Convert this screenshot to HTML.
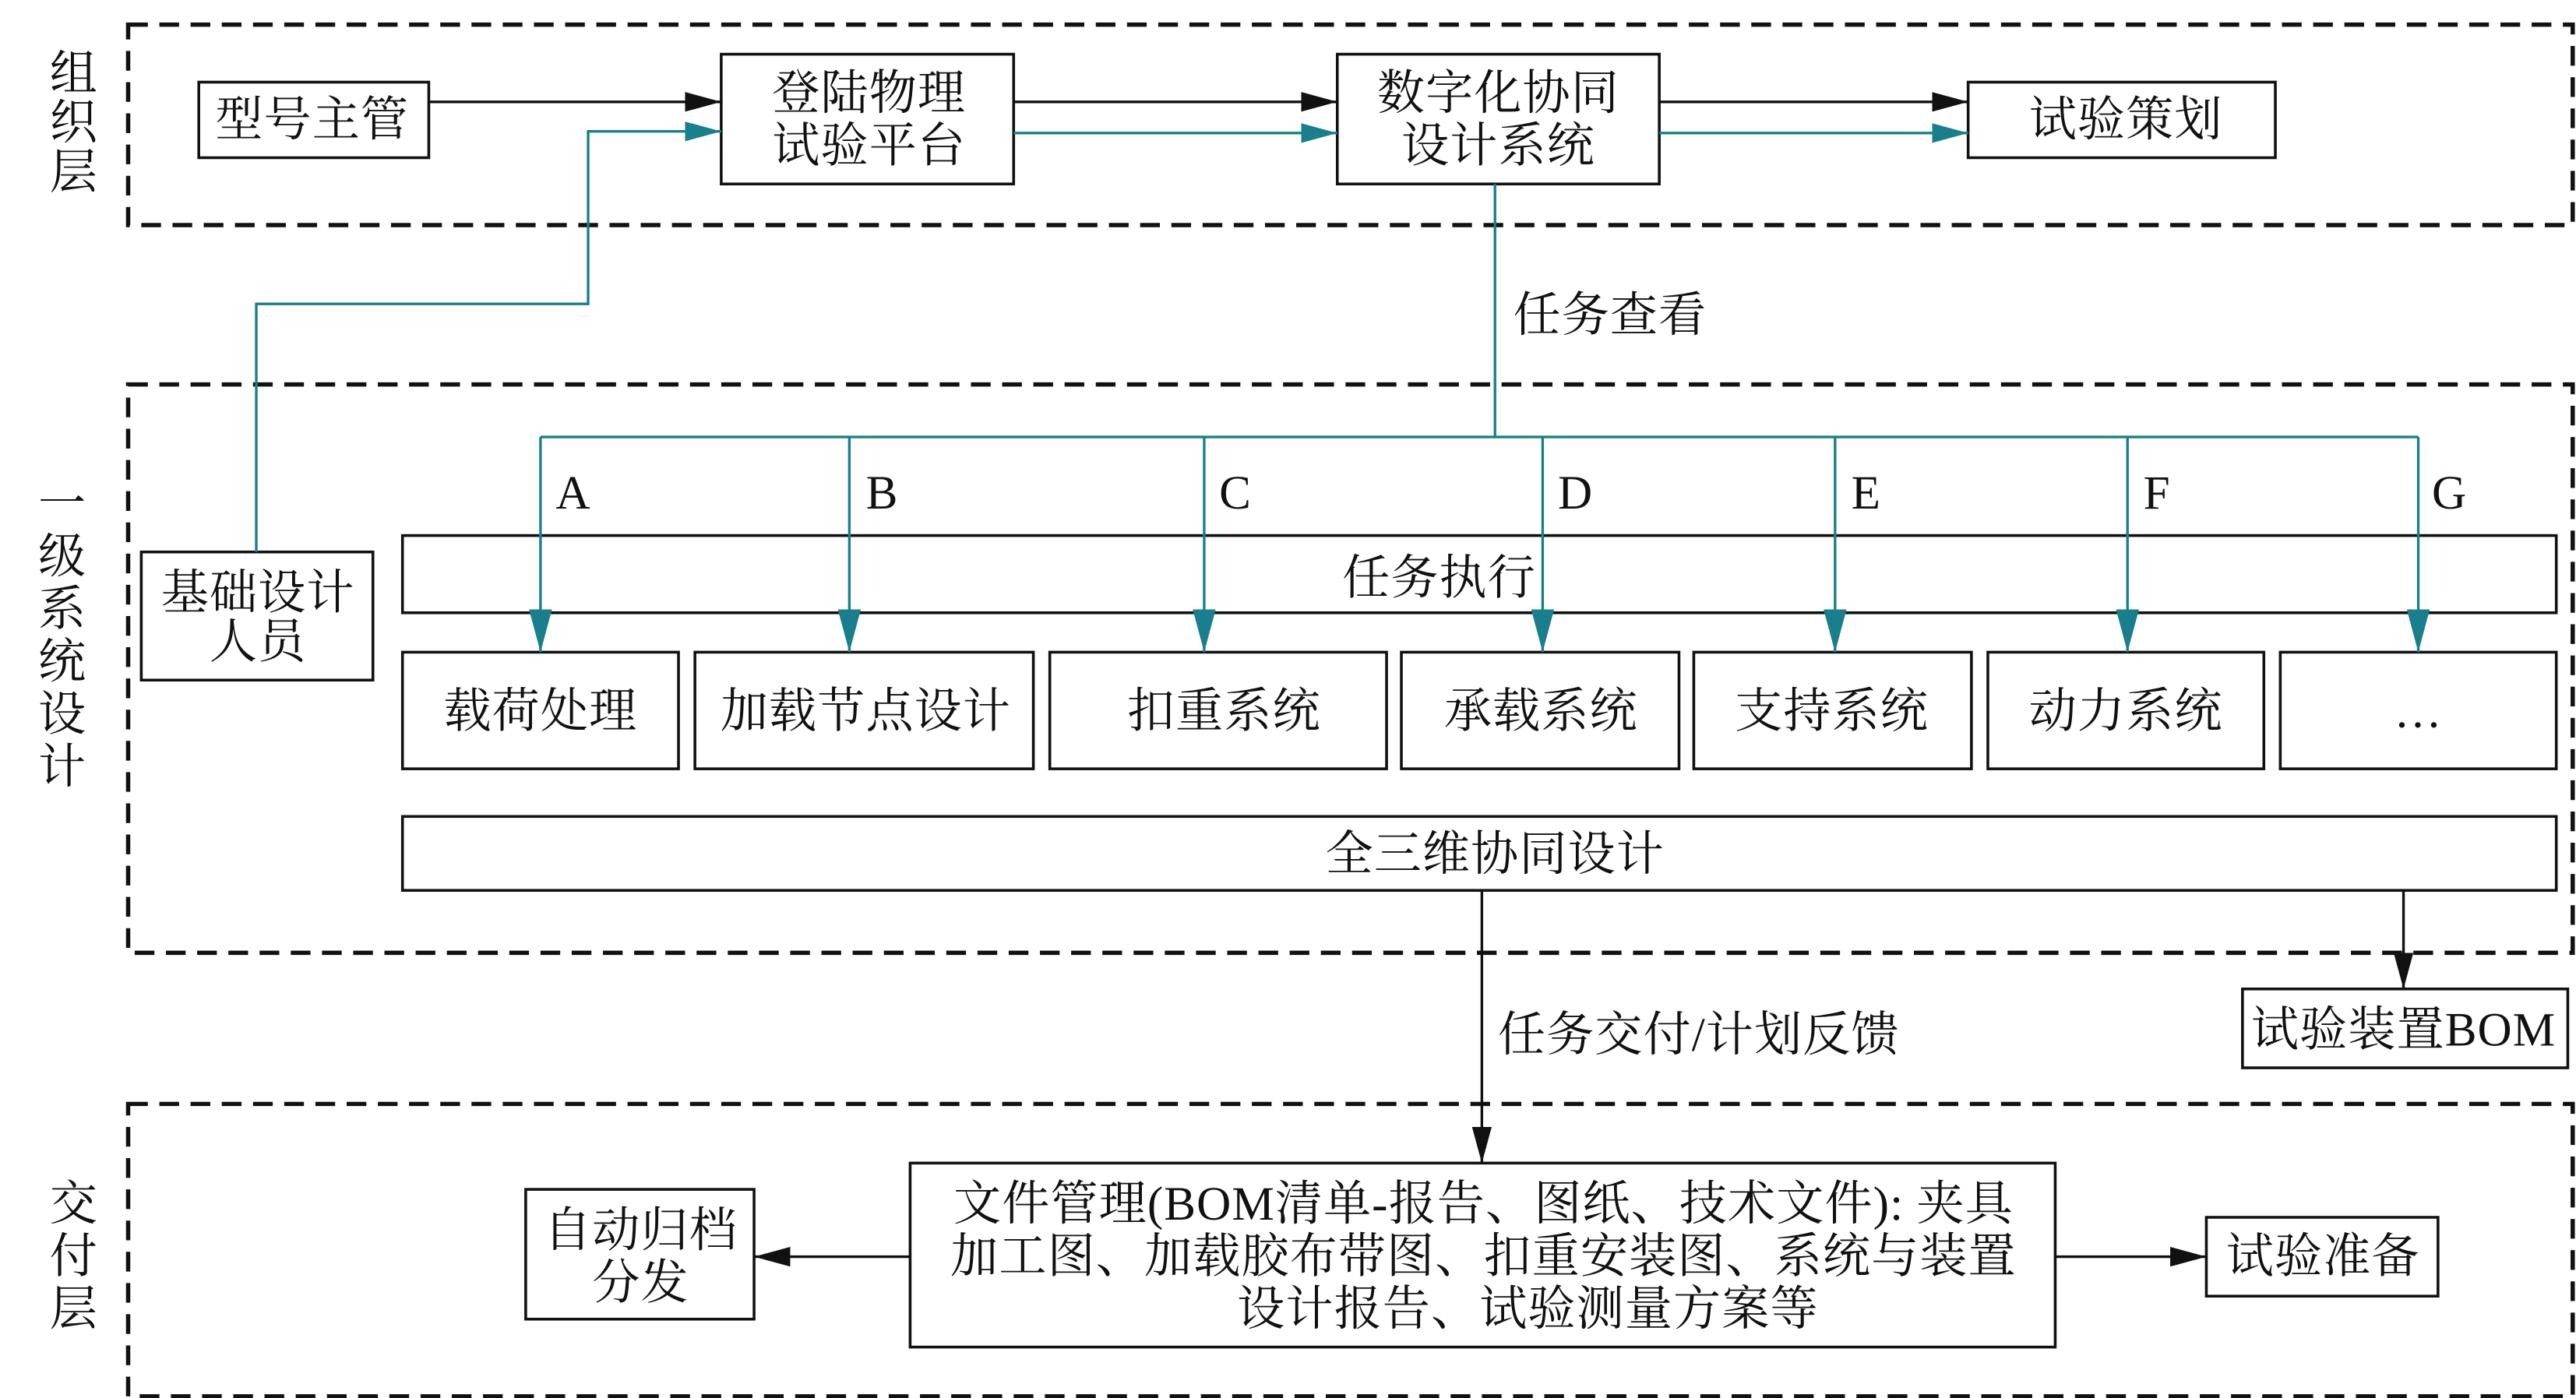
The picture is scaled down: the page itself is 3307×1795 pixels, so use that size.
<!DOCTYPE html>
<html><head><meta charset="utf-8"><style>
html,body{margin:0;padding:0;background:#fff;}
svg{display:block;}
text{font-family:"Liberation Serif","Noto Serif CJK SC",serif;fill:#111;}
</style></head><body>
<svg width="3307" height="1795" viewBox="0 0 1568 851" preserveAspectRatio="none" xmlns="http://www.w3.org/2000/svg">
<defs>
<marker id="abk" viewBox="0 0 22 12" markerWidth="22" markerHeight="12" refX="22" refY="6" orient="auto" markerUnits="userSpaceOnUse"><path d="M0,0 L22,6 L0,12 Z" fill="#111"/></marker>
<marker id="at" viewBox="0 0 22 12" markerWidth="22" markerHeight="12" refX="22" refY="6" orient="auto" markerUnits="userSpaceOnUse"><path d="M0,0 L22,6 L0,12 Z" fill="#1a7f8c"/></marker>
<marker id="atv" viewBox="0 0 26 14" markerWidth="26" markerHeight="14" refX="26" refY="7" orient="auto" markerUnits="userSpaceOnUse"><path d="M0,0 L26,7 L0,14 Z" fill="#1a7f8c"/></marker>
</defs>
<g fill="none" stroke="#111" stroke-width="2.6" stroke-dasharray="12,7">
<rect x="78" y="15" width="1488" height="122"/>
<rect x="78" y="234" width="1488" height="346"/>
<rect x="78" y="672" width="1488" height="178"/>
</g>
<g fill="#fff" stroke="#111" stroke-width="1.7">
<rect x="121" y="50" width="140" height="46"/>
<rect x="439" y="33" width="178" height="79"/>
<rect x="814" y="33" width="196" height="79"/>
<rect x="1198" y="50" width="187" height="46"/>
<rect x="86" y="336" width="141" height="78"/>
<rect x="245" y="326" width="1311" height="47"/>
<rect x="245" y="397" width="168" height="71"/>
<rect x="423" y="397" width="206" height="71"/>
<rect x="639" y="397" width="205" height="71"/>
<rect x="853" y="397" width="169" height="71"/>
<rect x="1031" y="397" width="169" height="71"/>
<rect x="1210" y="397" width="168" height="71"/>
<rect x="1388" y="397" width="168" height="71"/>
<rect x="245" y="497" width="1311" height="45"/>
<rect x="1365" y="602" width="198" height="48"/>
<rect x="554" y="708" width="697" height="112"/>
<rect x="320" y="724" width="139" height="79"/>
<rect x="1343" y="741" width="141" height="48"/>
</g>
<g fill="none" stroke="#111" stroke-width="1.6">
<line x1="261" y1="62" x2="439" y2="62" marker-end="url(#abk)"/>
<line x1="617" y1="62" x2="814" y2="62" marker-end="url(#abk)"/>
<line x1="1010" y1="62" x2="1198" y2="62" marker-end="url(#abk)"/>
<line x1="902" y1="542" x2="902" y2="708" marker-end="url(#abk)"/>
<line x1="1463" y1="542" x2="1463" y2="602" marker-end="url(#abk)"/>
<line x1="554" y1="765" x2="459" y2="765" marker-end="url(#abk)"/>
<line x1="1251" y1="765" x2="1343" y2="765" marker-end="url(#abk)"/>
</g>
<g fill="none" stroke="#1a7f8c" stroke-width="1.6">
<polyline points="156,336 156,185 358,185 358,80 439,80" marker-end="url(#at)"/>
<line x1="617" y1="81" x2="814" y2="81" marker-end="url(#at)"/>
<line x1="1010" y1="81" x2="1198" y2="81" marker-end="url(#at)"/>
<line x1="910" y1="112" x2="910" y2="266"/>
<line x1="329" y1="266" x2="1472" y2="266"/>
<line x1="329" y1="266" x2="329" y2="397" marker-end="url(#atv)"/>
<line x1="517" y1="266" x2="517" y2="397" marker-end="url(#atv)"/>
<line x1="733" y1="266" x2="733" y2="397" marker-end="url(#atv)"/>
<line x1="939" y1="266" x2="939" y2="397" marker-end="url(#atv)"/>
<line x1="1117" y1="266" x2="1117" y2="397" marker-end="url(#atv)"/>
<line x1="1295" y1="266" x2="1295" y2="397" marker-end="url(#atv)"/>
<line x1="1472" y1="266" x2="1472" y2="397" marker-end="url(#atv)"/>
</g>
<g font-size="29" text-anchor="middle" dominant-baseline="central" letter-spacing="0.5">
<text x="45" y="45">组</text><text x="45" y="75">织</text><text x="45" y="105">层</text>
<text x="38" y="307">一</text><text x="38" y="339">级</text><text x="38" y="371">系</text><text x="38" y="403">统</text><text x="38" y="435">设</text><text x="38" y="467">计</text>
<text x="45" y="733">交</text><text x="45" y="765">付</text><text x="45" y="797">层</text>
<text x="190" y="73">型号主管</text>
<text x="529" y="57">登陆物理</text><text x="529" y="89">试验平台</text>
<text x="912" y="57">数字化协同</text><text x="912" y="89">设计系统</text>
<text x="1294" y="73">试验策划</text>
<text x="980" y="192">任务查看</text>
<text x="349" y="300">A</text><text x="537" y="300">B</text><text x="752" y="300">C</text><text x="959" y="300">D</text><text x="1136" y="300">E</text><text x="1313" y="300">F</text><text x="1491" y="300">G</text>
<text x="876" y="352">任务执行</text>
<text x="157" y="361">基础设计</text><text x="157" y="391">人员</text>
<text x="329" y="433">载荷处理</text>
<text x="527" y="433">加载节点设计</text>
<text x="745" y="433">扣重系统</text>
<text x="938" y="433">承载系统</text>
<text x="1115" y="433">支持系统</text>
<text x="1294" y="433">动力系统</text>
<text x="1472" y="433">…</text>
<text x="910" y="520">全三维协同设计</text>
<text x="1034" y="630">任务交付/计划反馈</text>
<text x="1463" y="627">试验装置BOM</text>
<text x="903" y="733">文件管理(BOM清单-报告、图纸、技术文件): 夹具</text>
<text x="903" y="765">加工图、加载胶布带图、扣重安装图、系统与装置</text>
<text x="930" y="797">设计报告、试验测量方案等</text>
<text x="390" y="749">自动归档</text><text x="390" y="781">分发</text>
<text x="1414" y="765">试验准备</text>
</g>
</svg>
</body></html>
